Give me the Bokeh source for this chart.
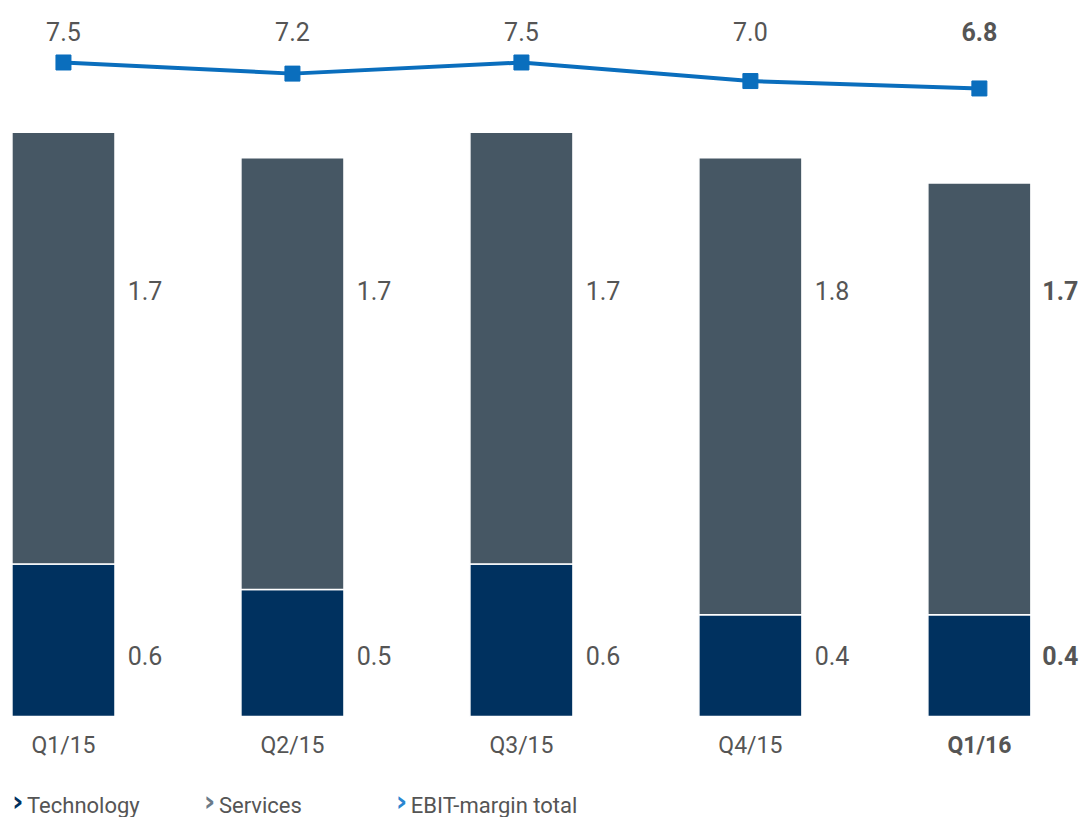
from bokeh.plotting import figure
from bokeh.models import ColumnDataSource, Range1d
from bokeh.core.properties import value
from bokeh.embed import file_html
from bokeh.resources import INLINE

categories = ["Q1/15", "Q2/15", "Q3/15", "Q4/15", "Q1/16"]
technology = [0.6, 0.5, 0.6, 0.4, 0.4]
services = [1.7, 1.7, 1.7, 1.8, 1.7]
ebit_margin = [7.5, 7.2, 7.5, 7.0, 6.8]
legend_labels = ["Technology", "Services", "EBIT-margin total"]

NAVY = "#00315F"
SLATE = "#465764"
BLUE = "#0A6EBD"
TEXT = "#555555"
FONT = value("Roboto")

n = len(categories)
idx = list(range(n))
styles = ["normal"] * (n - 1) + ["bold"]
stack_top = [t + s for t, s in zip(technology, services)]

src = ColumnDataSource(dict(
    x=idx, cat=categories, tech=technology, serv=services, top=stack_top,
    ebit=ebit_margin,
    tech_lbl=[f"{v:.1f}" for v in technology],
    serv_lbl=[f"{v:.1f}" for v in services],
    ebit_lbl=[f"{v:.1f}" for v in ebit_margin],
    style=styles,
))

W, H = 1081, 817
p = figure(width=W, height=H, output_backend="svg", toolbar_location=None,
           x_axis_location=None, y_axis_location=None, min_border=0,
           x_range=Range1d(-0.275, 4.446), y_range=Range1d(-0.398, 2.819))
p.outline_line_color = None
p.grid.visible = False
p.background_fill_color = "white"
p.border_fill_color = "white"
p.extra_y_ranges = {"margin": Range1d(-12.851, 9.171)}

bw = 0.45
p.vbar(x="x", bottom=0, top="tech", width=bw, source=src,
       fill_color=NAVY, line_color="white", line_width=1.5)
p.vbar(x="x", bottom="tech", top="top", width=bw, source=src,
       fill_color=SLATE, line_color="white", line_width=1.5)

p.line(x="x", y="ebit", source=src, y_range_name="margin",
       line_color=BLUE, line_width=4)
p.scatter(x="x", y="ebit", source=src, y_range_name="margin", marker="square",
          size=15, fill_color=BLUE, line_color=BLUE)

# line value labels
p.text(x="x", y=8.335, text="ebit_lbl", source=src, y_range_name="margin",
       text_align="center", text_baseline="middle", text_font=FONT,
       text_font_size="25px", text_color=TEXT, text_font_style="style")

# segment labels
p.text(x=[i + 0.432 for i in idx], y=[1.677] * n, text=src.data["serv_lbl"],
       text_align="right", text_baseline="middle", text_font=FONT,
       text_font_size="25px", text_color=TEXT, text_font_style=styles)
p.text(x=[i + 0.432 for i in idx], y=[0.24] * n, text=src.data["tech_lbl"],
       text_align="right", text_baseline="middle", text_font=FONT,
       text_font_size="25px", text_color=TEXT, text_font_style=styles)

# category labels
p.text(x="x", y=-0.114, text="cat", source=src, text_align="center",
       text_baseline="middle", text_font=FONT, text_font_size="23px",
       text_color=TEXT, text_font_style="style")

# legend
leg_x = [-0.225, 0.613, 1.451]
leg_colors = [NAVY, "#6B7B88", "#2A86D0"]
p.text(x=leg_x, y=[-0.336] * 3, text=["\u203a"] * 3, text_align="left",
       text_baseline="middle", text_font=value("DejaVu Sans"),
       text_font_size="28px", text_font_style="bold", text_color=leg_colors)
p.text(x=[v + 0.066 for v in leg_x], y=[-0.349] * 3, text=legend_labels,
       text_align="left", text_baseline="middle", text_font=FONT,
       text_font_size="22px", text_color=TEXT)

open("out.html", "w").write(file_html(p, INLINE))
